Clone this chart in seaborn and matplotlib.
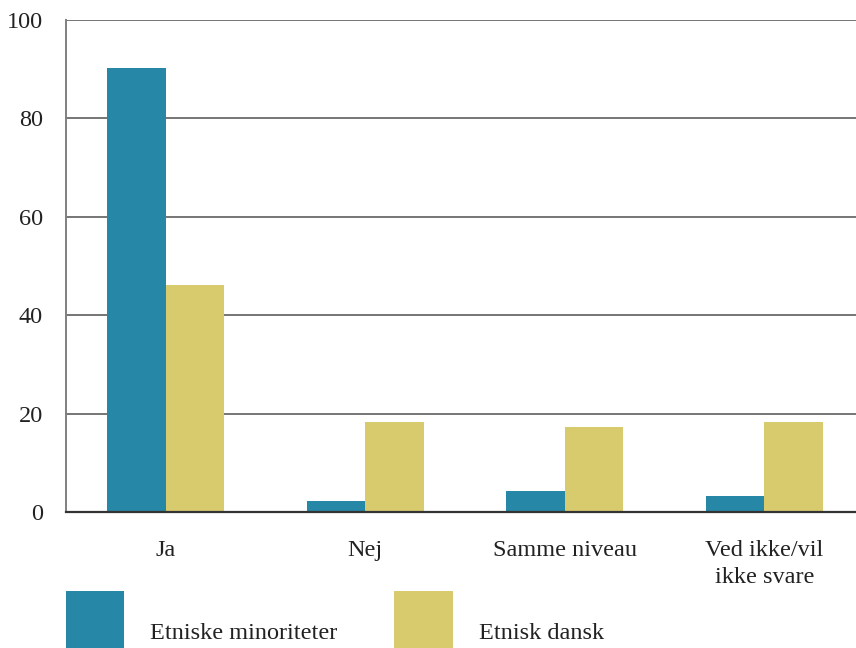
import matplotlib
matplotlib.use("Agg")
import matplotlib.pyplot as plt
import matplotlib.transforms as mtransforms
import seaborn as sns
import pandas as pd

categories = ["Ja", "Nej", "Samme niveau", "Ved ikke/vil\nikke svare"]
series_names = ["Etniske minoriteter", "Etnisk dansk"]
minoriteter = [90.2, 2.3, 4.3, 3.3]
dansk = [46.1, 18.3, 17.3, 18.3]
yticks = [0, 20, 40, 60, 80, 100]
colors = ["#2687A6", "#D8CB6E"]

df = pd.DataFrame({
    "kategori": categories * 2,
    "gruppe": [series_names[0]] * 4 + [series_names[1]] * 4,
    "værdi": minoriteter + dansk,
})

sns.set_theme(style="white")
plt.rcParams["font.family"] = ["Liberation Serif", "DejaVu Serif"]

fig = plt.figure(figsize=(8.56, 6.48), dpi=100)
ax = fig.add_axes([66 / 856, 1 - 512 / 648, 1 - 66 / 856, (512 - 20) / 648])

sns.barplot(data=df, x="kategori", y="værdi", hue="gruppe", order=categories,
            hue_order=series_names, palette=colors, saturation=1, width=0.587,
            linewidth=0, edgecolor="none", ax=ax, legend=True)

ax.set_ylim(0, 100)
ax.set_xlim(-0.5, 3.46)
ax.set_yticks(yticks)
ax.set_yticklabels([str(v) for v in yticks])
ax.set_xlabel("")
ax.set_ylabel("")
ax.set_axisbelow(True)
ax.yaxis.grid(True, color="#757575", linewidth=1.4)
ax.xaxis.grid(False)
for s in ["top", "right"]:
    ax.spines[s].set_visible(False)
ax.spines["left"].set_color("#808080")
ax.spines["left"].set_linewidth(1.4)
ax.spines["bottom"].set_color("#333333")
ax.spines["bottom"].set_linewidth(1.6)
ax.tick_params(axis="both", length=0, labelsize=17.5, colors="#222222")
ax.tick_params(axis="y", pad=16.5)
ax.tick_params(axis="x", pad=20)
for lab in ax.get_xticklabels():
    lab.set_linespacing(1.4)

handles, labels = ax.get_legend_handles_labels()
leg = ax.legend(handles, labels, ncol=2, loc="upper left",
                bbox_to_anchor=(-0.0, -0.16), frameon=False, fontsize=17.5,
                handlelength=2.39, handleheight=3.35, handletextpad=1.07,
                columnspacing=2.35, borderaxespad=0, borderpad=0)
for t in leg.get_texts():
    t.set_color("#222222")
    t.set_transform(t.get_transform() + mtransforms.Affine2D().translate(0, -12))

fig.savefig("out.png", dpi=100)
